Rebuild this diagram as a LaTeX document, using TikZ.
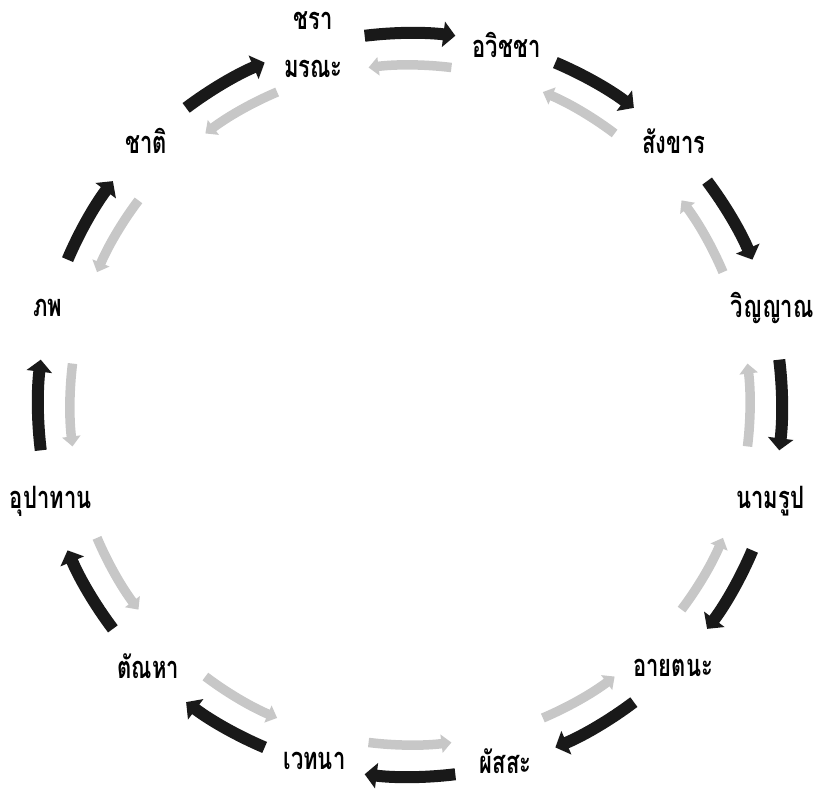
\documentclass[tikz,border=0pt]{standalone}
\usepackage{fontspec}
\newfontfamily\thaifont[Script=Thai]{Loma}
\usepackage{tikz}
\usetikzlibrary{arrows.meta}

\begin{document}
\begin{tikzpicture}[x=1pt,y=1pt]
  \tikzset{lbl/.style={font=\thaifont\bfseries\fontsize{22}{34}\selectfont,align=center,inner sep=0pt,yscale=1.4,transform shape},
    fwd/.style={draw=black!90,line width=12pt,-{Triangle[length=12pt,width=25pt]}},
    bwd/.style={draw=black!22,line width=9.5pt,-{Triangle[length=10pt,width=18pt]}}}
  \useasboundingbox (-410,-385) rectangle (408,405);
  \coordinate (ctr) at (0,0);
  % the twelve links, clockwise from the top
  \node[lbl] (jara) at (105:373pt) {ชรา\\มรณะ};
  \node[lbl] (avijja) at (75:373pt) {อวิชชา};
  \node[lbl] (sankhara) at (45:373pt) {สังขาร};
  \node[lbl] (vinnana) at (15:375pt) {วิญญาณ};
  \node[lbl] (namarupa) at (-15:373pt) {นามรูป};
  \node[lbl] (ayatana) at (-45:372pt) {อายตนะ};
  \node[lbl] (phassa) at (-75:369pt) {ผัสสะ};
  \node[lbl] (vedana) at (-105:369pt) {เวทนา};
  \node[lbl] (tanha) at (-135:370pt) {ตัณหา};
  \node[lbl] (upadana) at (-165:372pt) {อุปาทาน};
  \node[lbl] (bhava) at (165:375pt) {ภพ};
  \node[lbl] (jati) at (135:373pt) {ชาติ};
  % outer ring: black, clockwise
  \draw[fwd] ([shift={(97:372pt)}]ctr) arc[start angle=97,end angle=83,radius=372pt];
  \draw[fwd] ([shift={(67:372pt)}]ctr) arc[start angle=67,end angle=53,radius=372pt];
  \draw[fwd] ([shift={(37:372pt)}]ctr) arc[start angle=37,end angle=23,radius=372pt];
  \draw[fwd] ([shift={(7:372pt)}]ctr) arc[start angle=7,end angle=-7,radius=372pt];
  \draw[fwd] ([shift={(-23:372pt)}]ctr) arc[start angle=-23,end angle=-37,radius=372pt];
  \draw[fwd] ([shift={(-53:372pt)}]ctr) arc[start angle=-53,end angle=-67,radius=372pt];
  \draw[fwd] ([shift={(-83:372pt)}]ctr) arc[start angle=-83,end angle=-97,radius=372pt];
  \draw[fwd] ([shift={(-113:372pt)}]ctr) arc[start angle=-113,end angle=-127,radius=372pt];
  \draw[fwd] ([shift={(-143:372pt)}]ctr) arc[start angle=-143,end angle=-157,radius=372pt];
  \draw[fwd] ([shift={(-173:372pt)}]ctr) arc[start angle=-173,end angle=-187,radius=372pt];
  \draw[fwd] ([shift={(157:372pt)}]ctr) arc[start angle=157,end angle=143,radius=372pt];
  \draw[fwd] ([shift={(127:372pt)}]ctr) arc[start angle=127,end angle=113,radius=372pt];
  % inner ring: gray, counter-clockwise
  \draw[bwd] ([shift={(83:340pt)}]ctr) arc[start angle=83,end angle=97,radius=340pt];
  \draw[bwd] ([shift={(53:340pt)}]ctr) arc[start angle=53,end angle=67,radius=340pt];
  \draw[bwd] ([shift={(23:340pt)}]ctr) arc[start angle=23,end angle=37,radius=340pt];
  \draw[bwd] ([shift={(-7:340pt)}]ctr) arc[start angle=-7,end angle=7,radius=340pt];
  \draw[bwd] ([shift={(-37:340pt)}]ctr) arc[start angle=-37,end angle=-23,radius=340pt];
  \draw[bwd] ([shift={(-67:340pt)}]ctr) arc[start angle=-67,end angle=-53,radius=340pt];
  \draw[bwd] ([shift={(-97:340pt)}]ctr) arc[start angle=-97,end angle=-83,radius=340pt];
  \draw[bwd] ([shift={(-127:340pt)}]ctr) arc[start angle=-127,end angle=-113,radius=340pt];
  \draw[bwd] ([shift={(-157:340pt)}]ctr) arc[start angle=-157,end angle=-143,radius=340pt];
  \draw[bwd] ([shift={(-187:340pt)}]ctr) arc[start angle=-187,end angle=-173,radius=340pt];
  \draw[bwd] ([shift={(143:340pt)}]ctr) arc[start angle=143,end angle=157,radius=340pt];
  \draw[bwd] ([shift={(113:340pt)}]ctr) arc[start angle=113,end angle=127,radius=340pt];
\end{tikzpicture}
\end{document}
